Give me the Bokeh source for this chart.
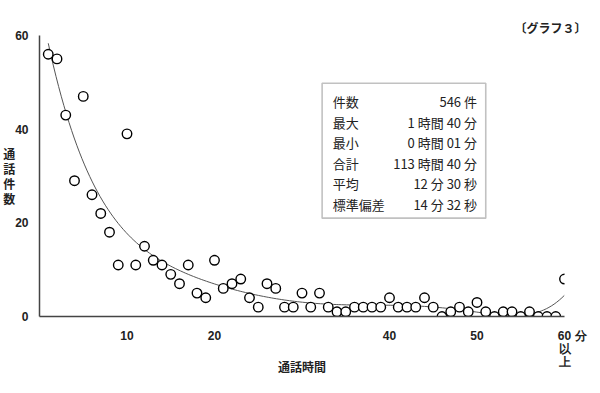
import numpy as np
from bokeh.plotting import figure
from bokeh.models import Range1d, FixedTicker, Label, BoxAnnotation, ColumnDataSource, Title
from bokeh.embed import file_html
from bokeh.resources import INLINE

# ---- data ----
minutes = list(range(1, 61))
calls = [56, 55, 43, 29, 47, 26, 22, 18, 11, 39,
         11, 15, 12, 11, 9, 7, 11, 5, 4, 12,
         6, 7, 8, 4, 2, 7, 6, 2, 2, 5,
         2, 5, 2, 1, 1, 2, 2, 2, 2, 4,
         2, 2, 2, 4, 2, 0, 1, 2, 1, 3,
         1, 0, 1, 1, 0, 1, 0, 0, 0, 8]
x_ticks = [10, 20, 40, 50, 60]
x_tick_overrides = {60: "\u3000 60 分\n以\n上"}
y_ticks = [0, 20, 40, 60]
stat_labels = ["件数", "最大", "最小", "合計", "平均", "標準偏差"]
stat_values = ["546 件", "1 時間 40 分", "0 時間 01 分", "113 時間 40 分", "12 分 30 秒", "14 分 32 秒"]
title_text = "〔グラフ３〕"
x_title = "通話時間"
y_title = "通話件数"

# trend line: polynomial fit of the data
poly = np.polynomial.Polynomial.fit(minutes, calls, 6)
xs = np.linspace(1, 60, 200)
ys = poly(xs)

p = figure(width=584, height=377, output_backend="svg", toolbar_location=None,
           x_range=Range1d(0, 60), y_range=Range1d(0, 60),
           min_border_left=34, min_border_right=25, min_border_top=35, min_border_bottom=61)
p.frame_width = 525
p.frame_height = 281
p.outline_line_color = None
p.grid.visible = False
p.background_fill_color = "white"

cjk = "Noto Sans CJK JP"
tick_font = "Liberation Sans"
ink = "#222222"
for ax in (p.xaxis[0], p.yaxis[0]):
    ax.major_tick_line_color = None
    ax.minor_tick_line_color = None
    ax.axis_line_color = "#444444"
    ax.axis_line_width = 1.5
    ax.major_label_text_font = tick_font
    ax.major_label_text_font_style = "bold"
    ax.major_label_text_font_size = "12px"
    ax.major_label_text_color = ink
    ax.axis_label_text_font = cjk
    ax.axis_label_text_font_style = "bold"
    ax.axis_label_text_font_size = "12px"
    ax.axis_label_text_color = ink

xa = p.xaxis[0]
xa.ticker = FixedTicker(ticks=x_ticks)
xa.major_label_overrides = x_tick_overrides
xa.major_label_standoff = 6
xa.major_label_text_line_height = 0.95
xa.axis_label = x_title
xa.axis_label_standoff = -14

ya = p.yaxis[0]
ya.ticker = FixedTicker(ticks=y_ticks)
ya.major_label_standoff = 5
ya.axis_label = "\n".join(y_title)
ya.axis_label_standoff = -3
ya.axis_label_text_line_height = 0.9
try:
    ya.axis_label_orientation = "horizontal"
except Exception:
    ya.axis_label = y_title

p.add_layout(Title(text=title_text, align="right", text_font=cjk, text_font_size="12px",
                   text_font_style="bold", text_color=ink, standoff=0, offset=-22), "above")

p.line(xs, ys, line_color="#555555", line_width=1)
src = ColumnDataSource(dict(x=minutes, y=calls))
p.scatter("x", "y", source=src, size=9.5, fill_color="white", line_color="black", line_width=1.4)

# statistics box
p.add_layout(BoxAnnotation(left=32.3, right=51.0, bottom=21.0, top=49.8,
                           fill_color="white", fill_alpha=1.0,
                           line_color="#333333", line_width=1.6, level="overlay"))
row_y = [46.0, 41.5, 37.1, 32.7, 28.3, 23.9]
for lab, val, yy in zip(stat_labels, stat_values, row_y):
    p.add_layout(Label(x=33.5, y=yy, text=lab, text_font=cjk, text_font_size="13px",
                       text_baseline="middle", text_align="left", text_color=ink, level="overlay"))
    p.add_layout(Label(x=50.0, y=yy, text=val, text_font=cjk, text_font_size="13px",
                       text_baseline="middle", text_align="right", text_color=ink, level="overlay"))

open("out.html", "w").write(file_html(p, INLINE))
